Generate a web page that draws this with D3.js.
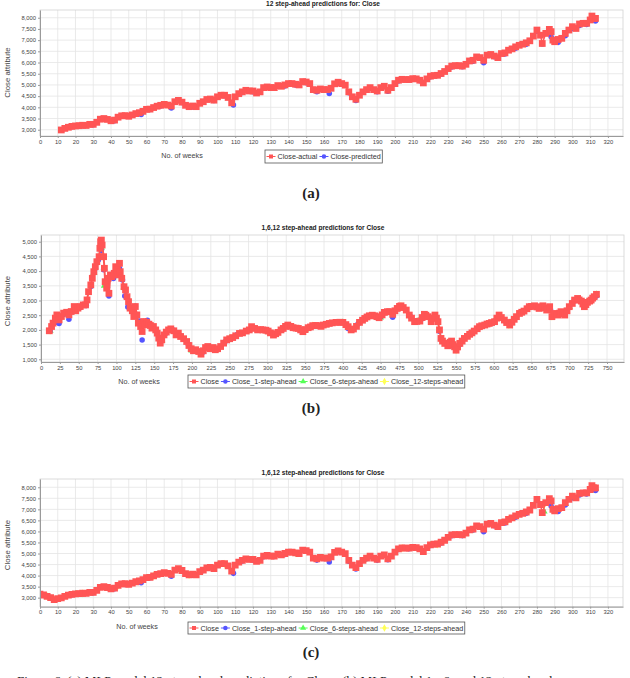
<!DOCTYPE html>
<html>
<head>
<meta charset="utf-8">
<script src="https://d3js.org/d3.v7.min.js"></script>
<style>
body { margin: 0; background: #fff; }
svg { display: block; font-family: "Liberation Sans", Arial, sans-serif; }
</style>
</head>
<body>
<svg id="fig" width="630" height="678"></svg>
<script>
// ---- panel (a) and (c): weekly Close, 0..313 weeks ----
var weeksAC = [0,2,4,6,8,10,12,14,16,18,20,22,24,26,28,30,32,34,36,38,40,42,44,46,48,50,52,54,56,58,60,62,64,66,68,70,72,74,76,78,80,82,84,86,88,90,92,94,96,98,100,102,104,106,108,110,112,114,116,118,120,122,124,126,128,130,132,134,136,138,140,142,144,146,148,150,152,154,156,158,160,162,164,166,168,170,172,174,176,178,180,182,184,186,188,190,192,194,196,198,200,202,204,206,208,210,212,214,216,218,220,222,224,226,228,230,232,234,236,238,240,242,244,246,248,250,252,254,256,258,260,262,264,266,268,270,272,274,276,278,280,282,283,285,287,288,289,290,292,294,296,298,300,302,304,306,308,310,311,312,313];
var closeAC = [3160,3120,3060,3000,2910,2960,2990,3060,3110,3150,3170,3180,3200,3190,3240,3240,3330,3470,3500,3460,3400,3430,3560,3620,3630,3600,3660,3720,3760,3820,3910,3920,3990,4050,4090,4130,4100,4060,4250,4310,4230,4090,4030,4060,4030,4180,4250,4350,4370,4320,4470,4540,4540,4440,4200,4470,4610,4690,4760,4730,4730,4640,4690,4880,4910,4880,4880,4970,4940,5000,5060,5060,5030,5000,5150,5130,5060,4790,4760,4820,4790,4790,4850,5050,5120,5060,4990,4690,4470,4360,4540,4690,4790,4880,4790,4730,4880,4940,4760,4880,5060,5210,5250,5240,5240,5280,5270,5210,5090,5270,5390,5420,5430,5510,5600,5730,5840,5860,5860,5840,5920,6070,6100,6250,6220,6100,6330,6360,6290,6220,6400,6430,6550,6610,6700,6770,6820,6880,6970,7180,7450,7220,6850,7300,7480,7380,7000,6930,7030,7080,7300,7450,7600,7520,7720,7750,7750,7900,8075,7970,7970];

var weeksPredAC = [2,6,12,18,24,30,36,42,48,57,62,68,74,80,86,92,98,104,109,114,120,126,132,138,144,150,156,160,163,168,174,178,184,190,196,202,208,214,220,226,232,238,244,250,256,262,268,274,280,283,288,292,296,300,304,308,313];
var predAC = [3130,3010,2980,3130,3180,3220,3480,3400,3600,3680,3900,4060,3970,4220,4020,4230,4300,4520,4100,4660,4700,4850,4860,4950,5000,5100,4700,4770,4620,5080,4650,4300,4760,4700,4720,5180,5220,5190,5360,5480,5800,5810,6060,5990,6260,6380,6640,6820,7400,6830,7150,6900,7200,7520,7650,7700,7850];

var weeks6C = [4,20,40,60,80,100,120,140,160,180,200,220,240,260,280,284,290,296,300,310,313];
var pred6C = [3050,3160,3390,3890,4220,4460,4720,5040,4780,4520,5040,5380,5900,6380,7420,6900,6980,7250,7560,7860,7950];
var weeks12C = [4,24,44,64,84,104,124,144,164,184,204,224,244,264,284,300,313];
var pred12C = [3060,3190,3550,3980,4030,4530,4680,5020,4840,4780,5240,5420,6090,6540,7200,7580,7960];

// ---- panel (b): weekly Close, 11..736 weeks ----
var weeksB = [11,14,16,19,21,24,27,30,34,37,40,44,46,49,52,56,59,61,63,66,68,70,72,74,77,78,79,80,81,83,84,85,87,89,90,92,94,97,99,100,102,104,105,107,110,112,114,116,118,121,123,125,127,129,132,134,136,138,140,143,145,147,149,152,154,156,158,160,163,166,169,172,176,179,182,185,189,193,196,199,202,205,209,212,215,218,221,224,228,231,234,238,242,246,250,254,258,263,267,272,276,279,283,287,291,294,298,301,304,308,311,314,318,321,324,327,331,334,338,341,344,347,350,354,357,360,364,367,371,374,378,382,386,391,396,400,404,407,411,414,418,422,426,429,432,435,439,442,445,448,452,455,459,462,466,469,472,475,477,480,484,488,491,495,498,502,505,508,510,513,517,519,522,524,526,528,530,532,535,539,542,544,546,548,550,552,555,558,561,565,568,571,574,578,581,584,588,591,594,597,601,604,607,610,614,617,621,624,627,630,634,637,640,644,647,650,654,657,660,663,665,668,670,674,677,680,683,685,687,689,691,694,697,700,704,707,711,713,716,718,720,722,724,727,729,731,733,736];
var closeB = [1970,2115,2230,2400,2510,2340,2455,2570,2600,2510,2625,2795,2650,2740,2795,2850,2850,3020,3300,3530,3755,3980,4150,4320,4490,4775,5000,5055,4885,4490,4095,3640,3420,3755,3245,3870,3810,3925,4150,4040,3870,4265,3980,3755,3470,3360,3130,2960,2740,2650,2455,2795,2510,2230,2115,1945,2285,2170,2260,2195,2150,2060,2115,2000,1890,1720,1550,1660,1830,1925,2000,2035,1970,1830,1890,1775,1700,1605,1470,1360,1290,1325,1265,1175,1290,1400,1435,1360,1400,1325,1360,1435,1550,1660,1700,1740,1800,1880,1900,1960,2000,2110,2050,2000,2010,2000,1990,1960,1900,1825,1870,1915,2000,2050,2120,2165,2120,2075,2060,2050,2000,1940,2010,2075,2100,2145,2150,2145,2120,2165,2190,2220,2240,2255,2260,2255,2180,2110,2000,2030,2120,2255,2330,2390,2440,2480,2500,2480,2450,2415,2510,2595,2620,2620,2530,2650,2730,2800,2820,2760,2675,2505,2400,2280,2290,2300,2420,2530,2500,2450,2280,2400,2505,2400,2280,2000,1710,1620,1540,1460,1580,1620,1500,1425,1310,1420,1540,1620,1710,1780,1850,1900,1960,2040,2110,2140,2165,2200,2220,2250,2280,2400,2505,2420,2335,2250,2165,2260,2360,2450,2560,2600,2640,2720,2790,2800,2820,2780,2730,2780,2820,2750,2675,2790,2450,2560,2520,2505,2570,2620,2560,2505,2650,2790,2900,3015,3070,3020,2980,2880,2790,2860,2935,2980,3015,3080,3130,3210];

var weeksB1 = [12,22,24,30,37,44,52,60,66,72,76,80,83,84,88,90,96,104,108,111,113,115,120,125,130,134,141,148,156,165,175,185,195,205,215,225,235,245,260,275,290,305,320,335,350,365,380,395,407,420,435,450,466,478,490,505,518,528,535,543,555,570,585,600,615,630,645,660,675,690,705,720,736];
var predB1 = [1960,2250,2220,2520,2360,2700,2760,2830,3480,4100,4380,4700,4050,4060,3450,3150,3750,4100,3700,3150,3150,2780,2700,2800,2300,1660,2330,2100,1750,1880,2000,1800,1520,1320,1250,1380,1350,1620,1840,2000,2000,1880,2020,2080,1990,2140,2200,2250,2050,2200,2460,2450,2430,2780,2450,2380,2350,1950,1560,1450,1500,1880,2130,2260,2300,2430,2750,2740,2700,2580,2950,2800,3150];
var weeksB6 = [12,30,50,70,80,84,86,95,110,130,160,200,250,300,350,400,450,500,540,600,650,700,736];
var predB6 = [1970,2550,2760,3950,4800,3500,3550,3800,3450,2250,1650,1300,1700,1960,2000,2250,2420,2300,1470,2270,2790,2780,3200];
var weeksB12 = [12,40,70,80,100,125,160,212,250,300,360,420,477,528,550,620,677,736];
var predB12 = [1975,2620,3970,5000,4030,2780,1650,1190,1700,1960,2140,2230,2810,2010,1320,2170,2460,3200];

var xTicksAC = d3.range(0, 321, 10);
var xTicksB = d3.range(0, 751, 25);
var yTicksAC = d3.range(3000, 8001, 500);
var yTicksB = d3.range(1000, 5001, 500);

var RED = "#ff5555", BLUE = "#5555ff", GREEN = "#55ff55", YELLOW = "#ffff55";

var svg = d3.select("#fig");

function pairs(w, v, from) {
    return w.map(function(d, i) { return [d, v[i]]; })
            .filter(function(d) { return d[0] >= (from || 0); });
}

function drawPanel(p) {
    var g = svg.append("g");
    var x = d3.scaleLinear().domain(p.xDomain).range([p.left, p.right]);
    var y = d3.scaleLinear().domain(p.yDomain).range([p.bottom, p.top]);

    g.append("rect")
        .attr("x", p.left).attr("y", p.top)
        .attr("width", p.right - p.left).attr("height", p.bottom - p.top)
        .attr("fill", "#fff");

    g.append("g").selectAll("line").data(p.xTicks).enter().append("line")
        .attr("x1", function(d) { return x(d); }).attr("x2", function(d) { return x(d); })
        .attr("y1", p.top).attr("y2", p.bottom)
        .attr("stroke", "#e4e4e4").attr("stroke-width", 0.8);
    g.append("g").selectAll("line").data(p.yTicks).enter().append("line")
        .attr("y1", function(d) { return y(d); }).attr("y2", function(d) { return y(d); })
        .attr("x1", p.left).attr("x2", p.right)
        .attr("stroke", "#e4e4e4").attr("stroke-width", 0.8);

    g.append("rect")
        .attr("x", p.left).attr("y", p.top)
        .attr("width", p.right - p.left).attr("height", p.bottom - p.top)
        .attr("fill", "none").attr("stroke", "#d2d2d2").attr("stroke-width", 0.8);

    var clipId = "clip" + p.id;
    g.append("clipPath").attr("id", clipId).append("rect")
        .attr("x", p.left).attr("y", p.top)
        .attr("width", p.right - p.left).attr("height", p.bottom - p.top);
    var plot = g.append("g").attr("clip-path", "url(#" + clipId + ")");

    // last series first so the red one ends on top
    p.series.slice().reverse().forEach(function(s) {
        if (s.lw > 0) {
            var line = d3.line().x(function(d) { return x(d[0]); }).y(function(d) { return y(d[1]); });
            plot.append("path").datum(s.data)
                .attr("d", line).attr("fill", "none")
                .attr("stroke", s.color).attr("stroke-width", s.lw);
        }
        plot.append("g").selectAll("path").data(s.data).enter().append("path")
            .attr("transform", function(d) { return "translate(" + x(d[0]) + "," + y(d[1]) + ")"; })
            .attr("d", d3.symbol().type(s.shape).size(s.size))
            .attr("fill", s.color);
    });

    var xa = g.append("g").attr("transform", "translate(0," + p.bottom + ")")
        .call(d3.axisBottom(x).tickValues(p.xTicks).tickSize(2).tickSizeOuter(0).tickPadding(1.5).tickFormat(d3.format("d")));
    var ya = g.append("g").attr("transform", "translate(" + p.left + ",0)")
        .call(d3.axisLeft(y).tickValues(p.yTicks).tickSize(2).tickSizeOuter(0).tickPadding(2).tickFormat(d3.format(",")));
    [xa, ya].forEach(function(a) {
        a.select(".domain").attr("stroke", "#9a9a9a");
        a.selectAll(".tick line").attr("stroke", "#9a9a9a");
        a.selectAll("text").attr("fill", "#444").style("font-size", "5.8px").style("font-family", "'Liberation Sans', Arial, sans-serif");
    });

    svg.append("text")
        .attr("x", 323).attr("y", p.titleY)
        .attr("text-anchor", "middle")
        .style("font-size", "6.6px").style("font-weight", "bold").attr("fill", "#222")
        .text(p.title);

    svg.append("text")
        .attr("transform", "translate(10," + p.yLabelY + ") rotate(-90)")
        .attr("text-anchor", "middle")
        .style("font-size", "7.8px").attr("fill", "#444")
        .text("Close attribute");

    svg.append("text")
        .attr("x", p.xLabel[0]).attr("y", p.xLabel[1])
        .attr("text-anchor", "middle")
        .style("font-size", "7.2px").attr("fill", "#444")
        .text("No. of weeks");

    // legend
    var lg = svg.append("g");
    var box = lg.append("rect")
        .attr("x", p.legend[0]).attr("y", p.legend[1]).attr("height", p.legend[2])
        .attr("fill", "#fff").attr("stroke", "#555").attr("stroke-width", 0.8);
    var cx = p.legend[0] + 6, cy = p.legend[1] + p.legend[2] / 2;
    p.series.forEach(function(s) {
        lg.append("line").attr("x1", cx - 4.5).attr("x2", cx + 4.5).attr("y1", cy).attr("y2", cy)
            .attr("stroke", s.color).attr("stroke-width", 1);
        lg.append("path").attr("transform", "translate(" + cx + "," + cy + ")")
            .attr("d", d3.symbol().type(s.shape).size(16)).attr("fill", s.color);
        var t = lg.append("text").attr("x", cx + 6.5).attr("y", cy).attr("dy", "0.35em")
            .style("font-size", "7.2px").attr("fill", "#333").text(s.label);
        cx = cx + 6.5 + t.node().getComputedTextLength() + 6.5;
    });
    box.attr("width", cx - 5 - p.legend[0]);

    svg.append("text")
        .attr("x", 311).attr("y", p.captionY)
        .attr("text-anchor", "middle")
        .style("font-family", "'Liberation Serif', 'DejaVu Serif', serif")
        .style("font-size", "15px").style("font-weight", "bold").attr("fill", "#222")
        .text(p.caption);
}

drawPanel({
    id: "a", left: 40, right: 623, top: 10, bottom: 136,
    xDomain: [0, 328.5], yDomain: [2720, 8345], xTicks: xTicksAC, yTicks: yTicksAC,
    title: "12 step-ahead predictions for: Close", titleY: 5.8, yLabelY: 72.5,
    xLabel: [182, 158], legend: [265, 150, 13], caption: "(a)", captionY: 198,
    series: [
        {label: "Close-actual", data: pairs(weeksAC, closeAC, 11), color: RED, shape: d3.symbolSquare, size: 46, lw: 1.5},
        {label: "Close-predicted", data: pairs(weeksPredAC, predAC, 11), color: BLUE, shape: d3.symbolCircle, size: 24, lw: 0}
    ]
});

drawPanel({
    id: "b", left: 41, right: 624, top: 235, bottom: 362,
    xDomain: [0, 772.5], yDomain: [908, 5228], xTicks: xTicksB, yTicks: yTicksB,
    title: "1,6,12 step-ahead predictions for Close", titleY: 230, yLabelY: 301,
    xLabel: [139, 384.3], legend: [188, 375, 13], caption: "(b)", captionY: 413,
    series: [
        {label: "Close", data: pairs(weeksB, closeB), color: RED, shape: d3.symbolSquare, size: 46, lw: 2},
        {label: "Close_1-step-ahead", data: pairs(weeksB1, predB1), color: BLUE, shape: d3.symbolCircle, size: 24, lw: 0},
        {label: "Close_6-steps-ahead", data: pairs(weeksB6, predB6), color: GREEN, shape: d3.symbolTriangle, size: 22, lw: 0},
        {label: "Close_12-steps-ahead", data: pairs(weeksB12, predB12), color: YELLOW, shape: d3.symbolDiamond, size: 20, lw: 0}
    ]
});

drawPanel({
    id: "c", left: 40, right: 623, top: 479, bottom: 606.7,
    xDomain: [0, 328.5], yDomain: [2590, 8375], xTicks: xTicksAC, yTicks: yTicksAC,
    title: "1,6,12 step-ahead predictions for Close", titleY: 474.7, yLabelY: 545,
    xLabel: [137, 629], legend: [188, 622, 12], caption: "(c)", captionY: 657,
    series: [
        {label: "Close", data: pairs(weeksAC, closeAC), color: RED, shape: d3.symbolSquare, size: 46, lw: 1.5},
        {label: "Close_1-step-ahead", data: pairs(weeksPredAC, predAC), color: BLUE, shape: d3.symbolCircle, size: 24, lw: 0},
        {label: "Close_6-steps-ahead", data: pairs(weeks6C, pred6C), color: GREEN, shape: d3.symbolTriangle, size: 22, lw: 0},
        {label: "Close_12-steps-ahead", data: pairs(weeks12C, pred12C), color: YELLOW, shape: d3.symbolDiamond, size: 20, lw: 0}
    ]
});

// figure caption, cut by the bottom edge of the page as in the source
svg.append("text")
    .attr("x", 17).attr("y", 685)
    .style("font-family", "'Liberation Serif', serif").style("font-size", "13px").attr("fill", "#222")
    .text("Figure 6. (a) MLP model 12-step-ahead predictions for Close; (b) MLP model 1-, 6- and 12-step-ahead");
</script>
</body>
</html>
